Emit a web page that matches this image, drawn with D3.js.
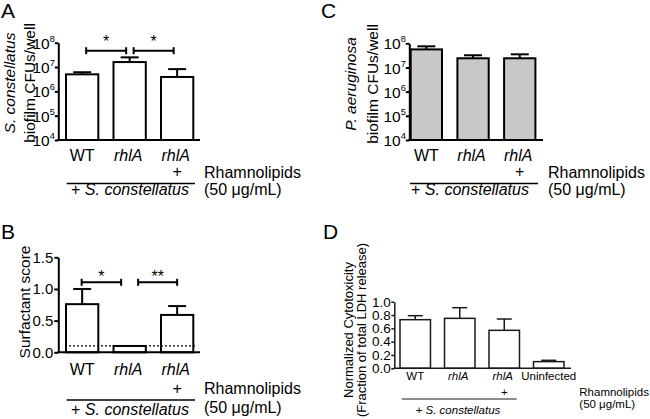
<!DOCTYPE html>
<html><head><meta charset="utf-8">
<script src="https://cdn.jsdelivr.net/npm/d3@7"></script>
<style>
html,body{margin:0;padding:0;background:#fff;}
svg{display:block;font-family:"Liberation Sans",Arial,Helvetica,sans-serif;}
</style></head>
<body><svg id="chart" width="650" height="419"></svg>
<script>
// ---------- data ----------
const catsABC = ["WT", "rhlA", "rhlA"];
const italicABC = [false, true, true];
const plusABC = ["", "", "+"];
const aMeans = [5.0e6, 1.6e7, 3.9e6];
const aUpper = [6.1e6, 2.5e7, 8.2e6];
const bMeans = [0.76, 0.10, 0.59];
const bUpper = [1.00, 0.10, 0.73];
const bThreshold = 0.1;
const cMeans = [5.6e7, 2.4e7, 2.4e7];
const cUpper = [7.5e7, 3.2e7, 3.5e7];
const catsD = ["WT", "rhlA", "rhlA", "Uninfected"];
const italicD = [false, true, true, false];
const plusD = ["", "", "+", ""];
const dMeans = [0.73, 0.75, 0.57, 0.10];
const dUpper = [0.79, 0.91, 0.74, 0.12];
const logTicks = [1e4, 1e5, 1e6, 1e7, 1e8];
const bTicks = [0, 0.5, 1.0, 1.5];
const dTicks = [0, 0.2, 0.4, 0.6, 0.8, 1.0];
const aSig = [{from: 0, to: 1, label: "*"}, {from: 1, to: 2, label: "*"}];
const bSig = [{from: 0, to: 1, label: "*"}, {from: 1, to: 2, label: "**"}];
const groupLabel = "S. constellatus";
const rhamLines = ["Rhamnolipids", "(50 μg/mL)"];

const svg = d3.select("#chart");

function panel(o) {
  const g = svg.append("g");
  const n = o.cats.length;
  const x = d3.scaleBand().domain(d3.range(n)).range(o.xr).paddingInner(o.pad).paddingOuter(0);
  const y = o.log ? d3.scaleLog().domain([1e4, 1e8]).range(o.yr)
                  : d3.scaleLinear().domain(o.ydom).range(o.yr);
  const y0 = o.yr[0];
  const cx = i => x(i) + x.bandwidth() / 2;

  // bars
  g.selectAll("rect.bar").data(o.means).join("rect")
    .attr("x", (d, i) => x(i)).attr("width", x.bandwidth())
    .attr("y", d => y(d)).attr("height", d => y0 - y(d))
    .attr("fill", o.fill).attr("stroke", o.stroke).attr("stroke-width", o.sw);

  // error bars
  o.upper.forEach((u, i) => {
    if (u <= o.means[i]) return;
    g.append("line").attr("x1", cx(i)).attr("x2", cx(i)).attr("y1", y(o.means[i])).attr("y2", y(u))
      .attr("stroke", o.stroke).attr("stroke-width", o.sw);
    g.append("line").attr("x1", cx(i) - o.cap).attr("x2", cx(i) + o.cap).attr("y1", y(u)).attr("y2", y(u))
      .attr("stroke", o.stroke).attr("stroke-width", o.sw);
  });

  // threshold
  if (o.threshold != null) {
    g.append("line").attr("x1", x(0) - 1).attr("x2", x(n - 1) + x.bandwidth() + 2)
      .attr("y1", y(o.threshold)).attr("y2", y(o.threshold))
      .attr("stroke", "#000").attr("stroke-width", 1.3).attr("stroke-dasharray", "2,2");
  }

  // y axis
  const axis = d3.axisLeft(y).tickValues(o.ticks).tickSizeInner(o.tickLen).tickSizeOuter(0).tickPadding(o.tickPad);
  if (!o.log) axis.tickFormat(d3.format(o.fmt));
  const ag = g.append("g").attr("transform", `translate(${o.axisX},0)`).call(axis);
  ag.select(".domain").attr("stroke", o.stroke).attr("stroke-width", o.sw);
  ag.selectAll(".tick line").attr("stroke", o.stroke).attr("stroke-width", o.sw);
  ag.selectAll(".tick text").attr("font-size", o.tickFont).attr("fill", "#000")
    .attr("font-family", '"Liberation Sans",Arial,sans-serif');
  if (o.log) {
    ag.selectAll(".tick text").each(function(d) {
      const t = d3.select(this);
      t.text("10").attr("dy", "0.36em");
      t.append("tspan").attr("font-size", o.tickFont * 0.6).attr("dy", "-0.75em").text(Math.round(Math.log10(d)));
    });
  }
  // x axis line
  g.append("line").attr("x1", o.axisX - o.sw / 2).attr("x2", o.xEnd).attr("y1", y0).attr("y2", y0)
    .attr("stroke", o.stroke).attr("stroke-width", o.sw);

  // significance brackets
  (o.sig || []).forEach(s => {
    const x1 = cx(s.from) + s.off1, x2 = cx(s.to) - s.off2, yy = o.sigY;
    g.append("line").attr("x1", x1).attr("x2", x2).attr("y1", yy).attr("y2", yy).attr("stroke", "#000").attr("stroke-width", 2);
    [x1, x2].forEach(xx => g.append("line").attr("x1", xx).attr("x2", xx).attr("y1", yy - 3.5).attr("y2", yy + 3.5)
      .attr("stroke", "#000").attr("stroke-width", 2));
    g.append("text").attr("x", (x1 + x2) / 2).attr("y", o.starY).attr("text-anchor", "middle")
      .attr("font-size", o.catFont).text(s.label);
  });

  // category labels
  o.cats.forEach((c, i) => {
    g.append("text").attr("x", cx(i) - (o.italic[i] ? 1.5 : 0)).attr("y", o.catY).attr("text-anchor", "middle")
      .attr("font-size", o.catFont).attr("font-style", o.italic[i] ? "italic" : "normal").text(c);
    if (o.plus[i]) g.append("text").attr("x", cx(i)).attr("y", o.plusY).attr("text-anchor", "middle")
      .attr("font-size", o.catFont).text(o.plus[i]);
  });
  g.append("line").attr("x1", o.lineX[0]).attr("x2", o.lineX[1]).attr("y1", o.lineY).attr("y2", o.lineY)
    .attr("stroke", o.stroke).attr("stroke-width", o.sw * 0.75);
  const gt = g.append("text").attr("x", o.groupX).attr("y", o.groupY).attr("text-anchor", "middle").attr("font-size", o.catFont);
  gt.append("tspan").text("+ ");
  gt.append("tspan").attr("font-style", "italic").text(groupLabel);
  rhamLines.forEach((t, k) => g.append("text").attr("x", o.rhamX).attr("y", o.rhamY[k])
    .attr("font-size", o.catFont).text(t));

  // y title
  o.ytitle.forEach((ln, k) => {
    const t = g.append("text").attr("transform", `translate(${ln.x},${o.ytitleY}) rotate(-90)`)
      .attr("text-anchor", "middle").attr("font-size", o.titleFont);
    ln.parts.forEach(p => t.append("tspan").attr("font-style", p.it ? "italic" : "normal").text(p.t));
  });

  // panel letter
  g.append("text").attr("x", o.letter[1]).attr("y", o.letter[2]).attr("font-size", 21).text(o.letter[0]);
}

panel({
  cats: catsABC, italic: italicABC, plus: plusABC, means: aMeans, upper: aUpper, log: true,
  xr: [66, 193.3], pad: 0.32, yr: [140, 42.7], axisX: 58.3, xEnd: 200, ticks: logTicks,
  fill: "#fff", stroke: "#000", sw: 2, cap: 9, tickLen: 3.5, tickPad: 0, tickFont: 15.5,
  sig: aSig.map(s => ({...s, off1: 4, off2: 3.5})), sigY: 50.7, starY: 46.5,
  catFont: 16, catY: 161, plusY: 177, lineY: 183.5, lineX: [66.7, 195], groupX: 130, groupY: 195,
  rhamX: 204, rhamY: [178, 195], titleFont: 15.5, ytitleY: 83,
  ytitle: [{x: 14.5, parts: [{t: "S. constellatus", it: true}]}, {x: 34.5, parts: [{t: "biofilm CFUs/well"}]}],
  letter: ["A", 1, 18]
});

panel({
  cats: catsABC, italic: italicABC, plus: plusABC, means: bMeans, upper: bUpper, log: false, ydom: [0, 1.5], fmt: ".1f",
  xr: [66, 193.3], pad: 0.32, yr: [352.3, 257.3], axisX: 58.3, xEnd: 200, ticks: bTicks, threshold: bThreshold,
  fill: "#fff", stroke: "#000", sw: 2, cap: 9, tickLen: 4, tickPad: 1, tickFont: 15,
  sig: [{...bSig[0], off1: -0.5, off2: 8.5}, {...bSig[1], off1: 8.5, off2: 0}], sigY: 282.3, starY: 282,
  catFont: 16, catY: 375, plusY: 394, lineY: 400, lineX: [66.7, 195], groupX: 130, groupY: 415,
  rhamX: 204, rhamY: [393.5, 413], titleFont: 15.5, ytitleY: 302,
  ytitle: [{x: 29.5, parts: [{t: "Surfactant score"}]}],
  letter: ["B", 1, 239]
});

panel({
  cats: catsABC, italic: italicABC, plus: plusABC, means: cMeans, upper: cUpper, log: true,
  xr: [410.7, 535.4], pad: 0.33, yr: [140, 43.3], axisX: 409.3, xEnd: 543, ticks: logTicks,
  fill: "#c8c8c8", stroke: "#000", sw: 2, cap: 9, tickLen: 3.5, tickPad: 0, tickFont: 15.5,
  catFont: 16, catY: 161, plusY: 177, lineY: 183.5, lineX: [410, 538], groupX: 470, groupY: 195,
  rhamX: 548, rhamY: [178, 195], titleFont: 15.5, ytitleY: 84,
  ytitle: [{x: 356, parts: [{t: "P. aeruginosa", it: true}]}, {x: 378, parts: [{t: "biofilm CFUs/well"}]}],
  letter: ["C", 321, 18]
});

panel({
  cats: catsD, italic: italicD, plus: plusD, means: dMeans, upper: dUpper, log: false, ydom: [0, 1], fmt: ".1f",
  xr: [400, 564], pad: 0.315, yr: [368.3, 301.7], axisX: 394.3, xEnd: 571, ticks: dTicks,
  fill: "#fff", stroke: "#1a1a1a", sw: 1.5, cap: 7.5, tickLen: 3, tickPad: 0.5, tickFont: 13.5,
  catFont: 11.5, catY: 379.5, plusY: 395.5, lineY: 399, lineX: [401.7, 516.7], groupX: 458, groupY: 414,
  rhamX: 579.3, rhamY: [396.3, 408.4], titleFont: 13, ytitleY: 330,
  ytitle: [{x: 352.5, parts: [{t: "Normalized Cytotoxicity"}]}, {x: 366, parts: [{t: "(Fraction of total LDH release)"}]}],
  letter: ["D", 323, 239]
});
</script></body></html>
